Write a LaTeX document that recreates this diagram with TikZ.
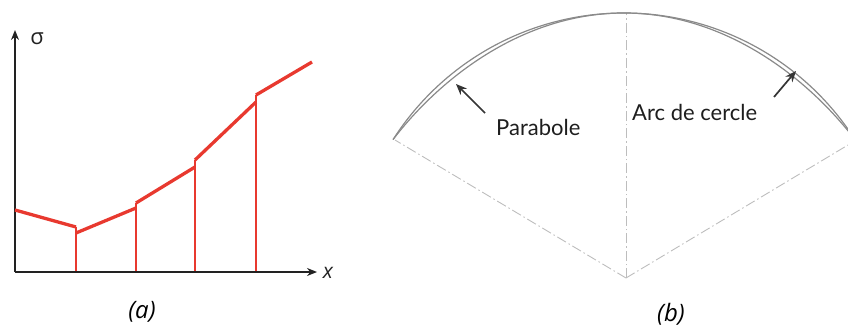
\documentclass[tikz,border=0pt]{standalone}
\usepackage{fontspec}
\setmainfont{Open Sans}
\newfontfamily\latofont{Lato}
\usetikzlibrary{arrows.meta}
\definecolor{redc}{HTML}{E8392F}
\definecolor{axisc}{HTML}{222222}
\definecolor{curvec}{HTML}{8A8A8A}
\definecolor{ddc}{HTML}{BDBDBD}
\definecolor{textc}{HTML}{1E1E1E}
\tikzset{
  axisline/.style={draw=axisc,line width=1.9pt,-{Stealth[length=10pt,width=8pt]}},
  redthick/.style={draw=redc,line width=3.3pt,line cap=butt},
  redthin/.style={draw=redc,line width=1.5pt},
  arcline/.style={draw=curvec,line width=1.2pt},
  ddline/.style={draw=ddc,line width=0.9pt,dash pattern=on 10pt off 3pt on 1.5pt off 3pt},
  ptrarrow/.style={draw=textc!90,line width=1.7pt,-{Stealth[length=11pt,width=9pt]}},
  caplabel/.style={font=\fontsize{24}{28}\selectfont\itshape,text=black,inner sep=0pt},
  gilllabel/.style={font=\latofont\fontsize{22}{26}\selectfont,text=textc,inner sep=0pt},
  axlabel/.style={font=\fontsize{22}{24}\selectfont,text=axisc,inner sep=0pt}
}
\begin{document}
\begin{tikzpicture}[x=1pt,y=-1pt]
\useasboundingbox (0,0) rectangle (848,329);
\clip (0,0) rectangle (848,329);
% ---------- panel (a) ----------
\coordinate (O) at (15,272);
\coordinate (Ytop) at (15,30);
\coordinate (Xend) at (317,272);
\draw[axisline] (O) -- (Ytop);
\draw[axisline] (O) -- (Xend);
\node[axlabel] (sig) at (37,39) {σ};
\node[axlabel,font=\fontsize{21}{24}\selectfont\itshape] (xl) at (328,273) {x};
% step points
\coordinate (p0) at (15,210);
\coordinate (p1a) at (76,227);
\coordinate (p1b) at (76,233);
\coordinate (p2a) at (136,208);
\coordinate (p2b) at (136,203);
\coordinate (p3a) at (195,167);
\coordinate (p3b) at (195,160);
\coordinate (p4a) at (256,102);
\coordinate (p4b) at (256,95);
\coordinate (p5) at (312,62);
\coordinate (b1) at (76,271);
\coordinate (b2) at (136,271);
\coordinate (b3) at (195,271);
\coordinate (b4) at (256,271);
\draw[redthin] (b1) -- (p1a);
\draw[redthin] (b2) -- (p2b);
\draw[redthin] (b3) -- (p3b);
\draw[redthin] (b4) -- (p4b);
\draw[redthick] (p0) -- (p1a);
\draw[redthick] (p1b) -- (p2a);
\draw[redthick] (p2b) -- (p3a);
\draw[redthick] (p3b) -- (p4a);
\draw[redthick] (p4b) -- (p5);
\node[caplabel] (la) at (142,312) {(a)};
% ---------- panel (b) ----------
\coordinate (V) at (626,278);
\coordinate (T) at (626,13);
\coordinate (L) at (395,140);
\coordinate (R) at (848,145);
\draw[ddline] (V) -- (T);
\draw[ddline] (V) -- (L);
\draw[ddline] (V) -- (R);
% circle arc (outer)
\draw[arcline] plot[domain=-231:236,samples=120,variable=\t]
  ({624+\t},{287-100*sqrt(7.5076-(\t/100)^2)});
% parabola (inner)
\draw[arcline] plot[domain=-231:236,samples=120,variable=\t]
  ({624+\t},{0.45*(287-100*sqrt(7.5076-(\t/100)^2))+0.55*(13+126.6*(\t/231)^2)});
\node[gilllabel,anchor=base west] (par) at (496,135) {Parabole};
\node[gilllabel,anchor=base west] (arc) at (632,120) {Arc de cercle};
\coordinate (parTail) at (485,113);
\coordinate (parTip) at (456,84);
\coordinate (arcTail) at (774,97);
\coordinate (arcTip) at (796,71);
\draw[ptrarrow] (parTail) -- (parTip);
\draw[ptrarrow] (arcTail) -- (arcTip);
\node[caplabel] (lb) at (671,314) {(b)};
\end{tikzpicture}
\end{document}
